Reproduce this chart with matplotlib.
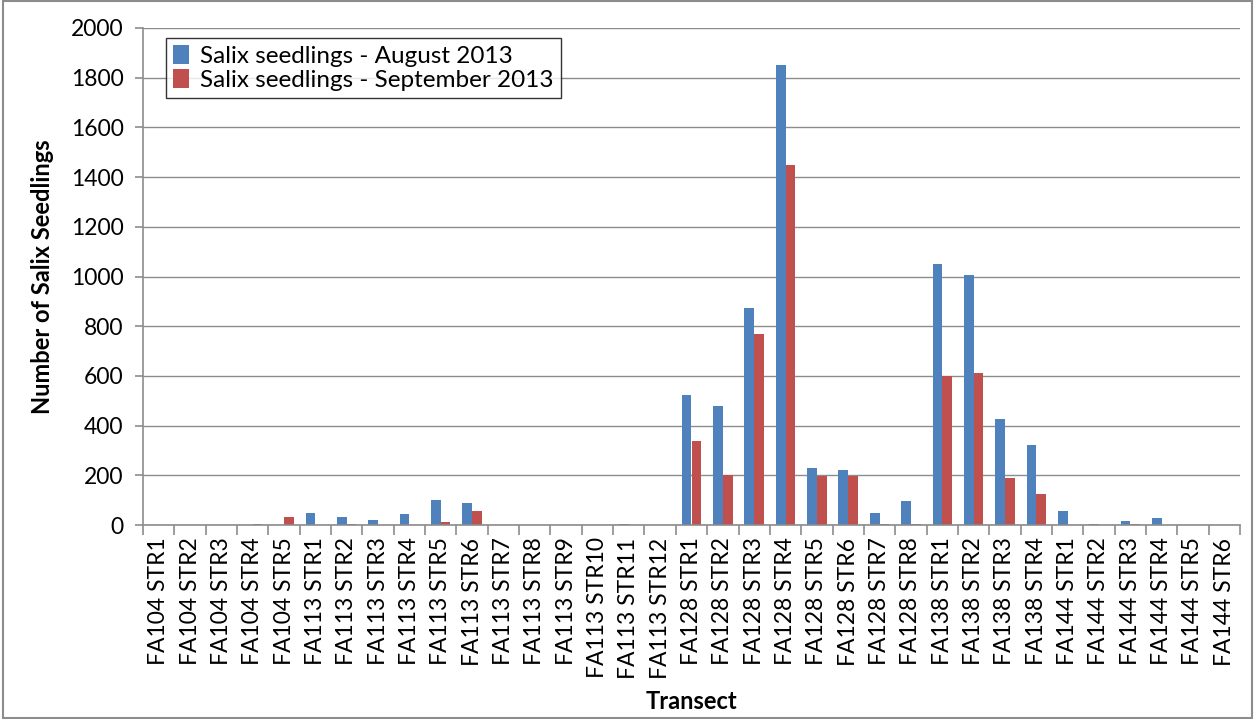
import numpy as np
import matplotlib.pyplot as plt
from matplotlib.patches import Rectangle

plt.rcParams["font.family"] = ["Lato", "DejaVu Sans"]

# ------------------------------------------------------------
# data
# ------------------------------------------------------------
transects = (
    [f"FA104 STR{i}" for i in range(1, 6)]
    + [f"FA113 STR{i}" for i in range(1, 13)]
    + [f"FA128 STR{i}" for i in range(1, 9)]
    + [f"FA138 STR{i}" for i in range(1, 5)]
    + [f"FA144 STR{i}" for i in range(1, 7)]
)

august = [0, 0, 0, 0, 0,
          50, 32, 22, 45, 100, 90, 0, 0, 0, 0, 5, 0,
          525, 478, 875, 1850, 230, 220, 47, 95,
          1050, 1008, 425, 322,
          58, 5, 18, 28, 0, 0]

september = [0, 0, 0, 5, 33,
             0, 6, 0, 0, 12, 55, 0, 0, 0, 0, 0, 0,
             340, 200, 770, 1450, 197, 197, 4, 5,
             600, 610, 190, 125,
             0, 0, 5, 0, 0, 0]

cor_ago = "#4F81BD"
cor_set = "#C0504D"

# ------------------------------------------------------------
# figure
# ------------------------------------------------------------
fig = plt.figure(figsize=(12.55, 7.19), dpi=100)
ax = fig.add_axes([143 / 1255, 1 - 525 / 719, (1240 - 143) / 1255, (525 - 28) / 719])

x = np.arange(len(transects))
w = 0.31
ax.bar(x - w / 2, august, width=w, color=cor_ago, label="Salix seedlings - August 2013")
ax.bar(x + w / 2, september, width=w, color=cor_set, label="Salix seedlings - September 2013")

ax.set_xlim(-0.5, len(transects) - 0.5)
ax.set_ylim(0, 2000)
ax.set_yticks(np.arange(0, 2001, 200))
ax.yaxis.grid(True, color="#8c8c8c", linewidth=1)
ax.set_axisbelow(True)

ax.set_xticks(x)
ax.set_xticklabels(transects, rotation=90, fontsize=16.5)
ax.set_xticks(np.arange(-0.5, len(transects), 1), minor=True)
ax.tick_params(axis="x", which="major", length=0, pad=9)
ax.tick_params(axis="x", which="minor", length=7, color="#8c8c8c", width=1.2)
ax.tick_params(axis="y", labelsize=16.5, length=6, color="#8c8c8c", width=1.2, pad=8)

for s in ["top", "right"]:
    ax.spines[s].set_visible(False)
for s in ["left", "bottom"]:
    ax.spines[s].set_color("#8c8c8c")
    ax.spines[s].set_linewidth(1.2)

ax.set_ylabel("Number of Salix Seedlings", fontsize=17, fontweight="bold", va="center")
ax.yaxis.set_label_coords(-0.092, 0.5)
ax.set_xlabel("Transect", fontsize=17, fontweight="bold", va="center")
ax.xaxis.set_label_coords(0.5, -0.356)

leg = ax.legend(loc="upper left", bbox_to_anchor=(0.021, 0.98), fontsize=17.5,
                frameon=True, fancybox=False, edgecolor="black",
                handlelength=0.65, handleheight=0.8, handletextpad=0.45,
                borderpad=0.3, labelspacing=0.1, borderaxespad=0)
leg.get_frame().set_linewidth(1)

# moldura externa
fig.patches.append(Rectangle((0.002, 0.002), 0.996, 0.996, transform=fig.transFigure,
                             fill=False, edgecolor="#8c8c8c", linewidth=1.5))

fig.savefig("out.png", dpi=100)
